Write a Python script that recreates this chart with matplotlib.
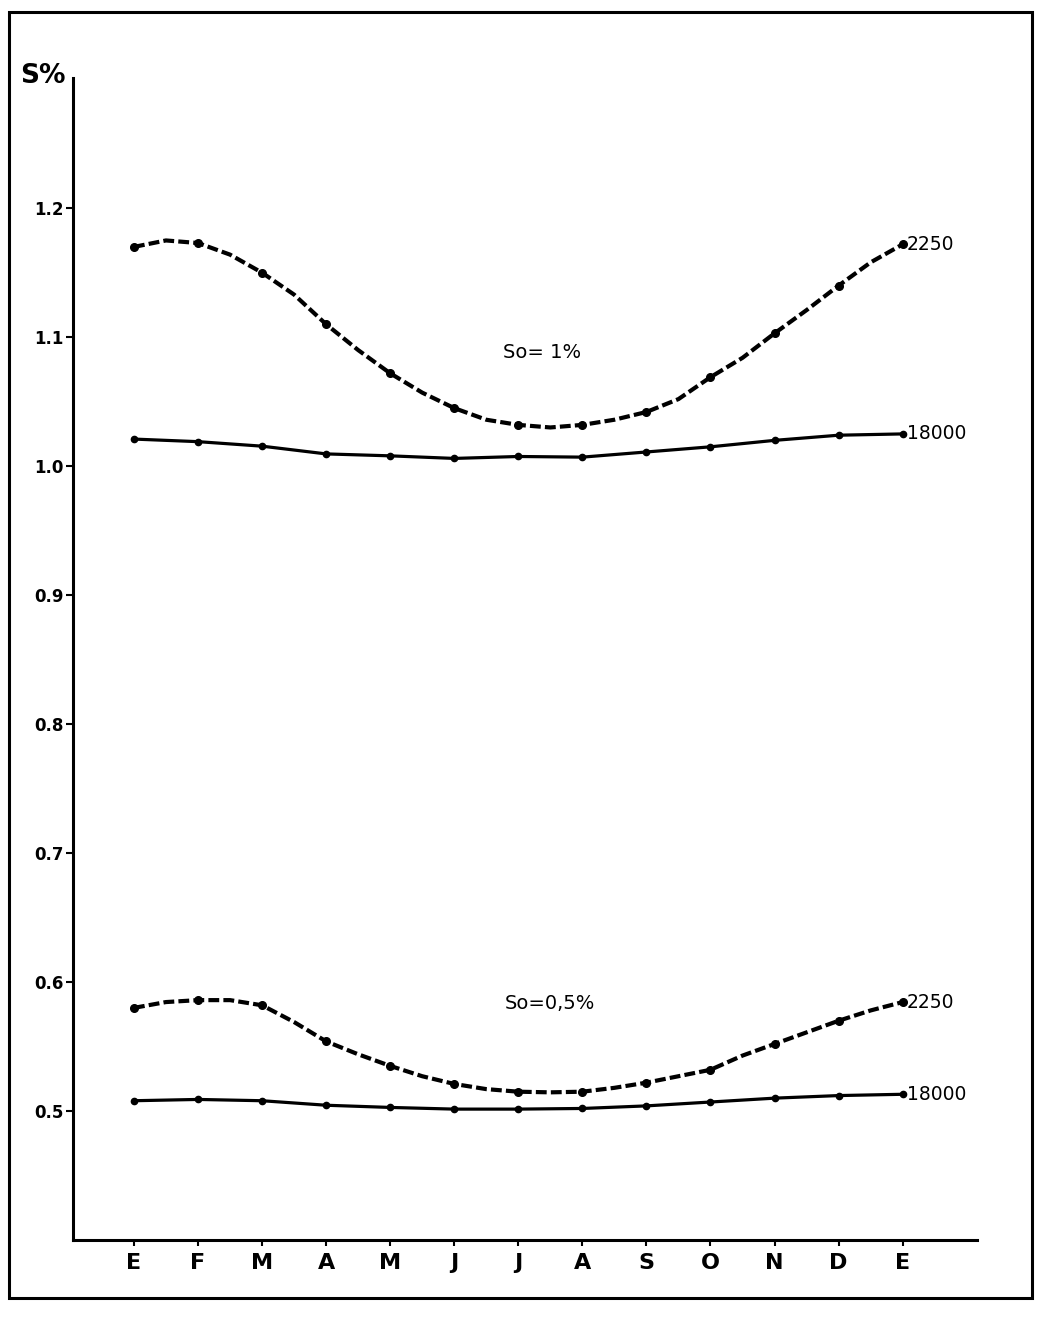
import matplotlib
matplotlib.use('Agg')
import matplotlib.pyplot as plt
from matplotlib.patches import Rectangle

plt.rcParams['font.family'] = ['DejaVu Sans']

meses = ['E', 'F', 'M', 'A', 'M', 'J', 'J', 'A', 'S', 'O', 'N', 'D', 'E']

# curvas de 2250: leidas cada medio mes (mes, mitad, mes, ...)
s1_2250 = [1.170, 1.175, 1.173, 1.164, 1.150, 1.133, 1.110, 1.090, 1.072, 1.057,
           1.045, 1.036, 1.032, 1.030, 1.032, 1.036, 1.042, 1.052, 1.069, 1.084,
           1.103, 1.121, 1.140, 1.158, 1.172]
s05_2250 = [0.580, 0.5845, 0.586, 0.586, 0.582, 0.569, 0.554, 0.544, 0.535, 0.527,
            0.521, 0.517, 0.515, 0.5145, 0.515, 0.518, 0.522, 0.527, 0.532, 0.543,
            0.552, 0.561, 0.570, 0.578, 0.5845]

# curvas de 18000: un valor por mes
s1_18000 = [1.021, 1.019, 1.0155, 1.0095, 1.008, 1.006, 1.0075, 1.007, 1.011, 1.015, 1.020, 1.024, 1.025]
s05_18000 = [0.508, 0.509, 0.508, 0.5045, 0.5028, 0.5015, 0.5015, 0.502, 0.504, 0.507, 0.510, 0.512, 0.513]

y_ticks = [0.5, 0.6, 0.7, 0.8, 0.9, 1.0, 1.1, 1.2]

fig = plt.figure(figsize=(10.41, 13.21), dpi=100)
ax = fig.add_axes([0.0701, 0.0613, 0.8684, 0.8797])

x = list(range(len(meses)))
x_half = [i / 2 for i in range(len(s1_2250))]

dash = dict(color='black', lw=3.0, linestyle=(0, (2.6, 1.0)), marker='o', ms=5.5, markevery=2)
solid = dict(color='black', lw=2.3, linestyle='-', marker='o', ms=4.5)

ax.plot(x_half, s1_2250, **dash)
ax.plot(x, s1_18000, **solid)
ax.plot(x_half, s05_2250, **dash)
ax.plot(x, s05_18000, **solid)

# rotulos al final de cada curva
for serie, txt in [(s1_2250, '2250'), (s1_18000, '18000'),
                   (s05_2250, '2250'), (s05_18000, '18000')]:
    ax.annotate(txt, (x[-1], serie[-1]), xytext=(3, 0), textcoords='offset points',
                ha='left', va='center', fontsize=13.5)

ax.text(6.37, 1.088, 'So= 1%', ha='center', va='center', fontsize=14)
ax.text(6.49, 0.583, 'So=0,5%', ha='center', va='center', fontsize=14)

ax.set_xlim(-0.952, 13.16)
ax.set_ylim(0.4, 1.301)
ax.set_xticks(x)
ax.set_xticklabels(meses, fontsize=16, fontweight='bold')
ax.set_yticks(y_ticks)
ax.set_yticklabels([f'{v:.1f}' for v in y_ticks], fontsize=12, fontweight='bold')
ax.tick_params(axis='x', direction='out', length=4, width=1.5, pad=5)
ax.tick_params(axis='y', direction='out', length=5, width=1.5, pad=2)

for s in ['top', 'right']:
    ax.spines[s].set_visible(False)
for s in ['left', 'bottom']:
    ax.spines[s].set_linewidth(2.2)

fig.text(20 / 1041, 1 - 76 / 1321, 'S%', fontsize=19, fontweight='bold', ha='left', va='center')

# marco de la pagina
fig.patches.append(Rectangle((9 / 1041, 1 - 1298 / 1321), (1032 - 9) / 1041, (1298 - 12) / 1321,
                             transform=fig.transFigure, fill=False, lw=2.2, ec='black'))

fig.savefig('out.png', dpi=100)
